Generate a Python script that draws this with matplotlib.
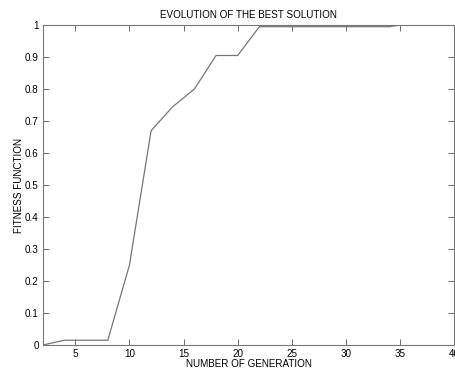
import matplotlib
matplotlib.use('Agg')
import matplotlib.pyplot as plt

# generacion y mejor fitness encontrado
generacion = [2, 4, 6, 8, 10, 12, 14, 16, 18, 20, 22, 24, 26, 28, 30, 32, 34, 35, 36]
fitness = [0.0, 0.015, 0.015, 0.015, 0.25, 0.67, 0.745, 0.80, 0.905, 0.905,
           0.995, 0.995, 0.995, 0.995, 0.995, 0.995, 0.995, 1.0, 1.0]

x_ticks = [5, 10, 15, 20, 25, 30, 35, 40]
y_ticks = [0, 0.1, 0.2, 0.3, 0.4, 0.5, 0.6, 0.7, 0.8, 0.9, 1]
y_labels = ['0', '0.1', '0.2', '0.3', '0.4', '0.5', '0.6', '0.7', '0.8', '0.9', '1']

plt.rcParams['font.family'] = ['Liberation Sans', 'DejaVu Sans']

fig = plt.figure(figsize=(4.56, 3.69), dpi=100)
ax = fig.add_axes([0.094, 0.065, 0.902, 0.867])
ax.plot(generacion, fitness, color='#767676', linewidth=0.9)

ax.set_xlim(2, 40)
ax.set_ylim(0, 1)
ax.set_xticks(x_ticks)
ax.set_yticks(y_ticks)
ax.set_yticklabels(y_labels)
ax.tick_params(direction='in', top=True, right=True, length=4, width=0.6,
               colors='#555555', labelcolor='black', labelsize=7.1, pad=3)
for s in ax.spines.values():
    s.set_color('#777777')
    s.set_linewidth(0.8)

ax.set_title('EVOLUTION OF THE BEST SOLUTION', fontsize=7.1, pad=5)
ax.set_xlabel('NUMBER OF GENERATION', fontsize=7.1)
ax.set_ylabel('FITNESS FUNCTION', fontsize=7.1)
ax.xaxis.set_label_coords(0.5, -0.045)
ax.yaxis.set_label_coords(-0.045, 0.5)

fig.savefig('out.png', dpi=100)
